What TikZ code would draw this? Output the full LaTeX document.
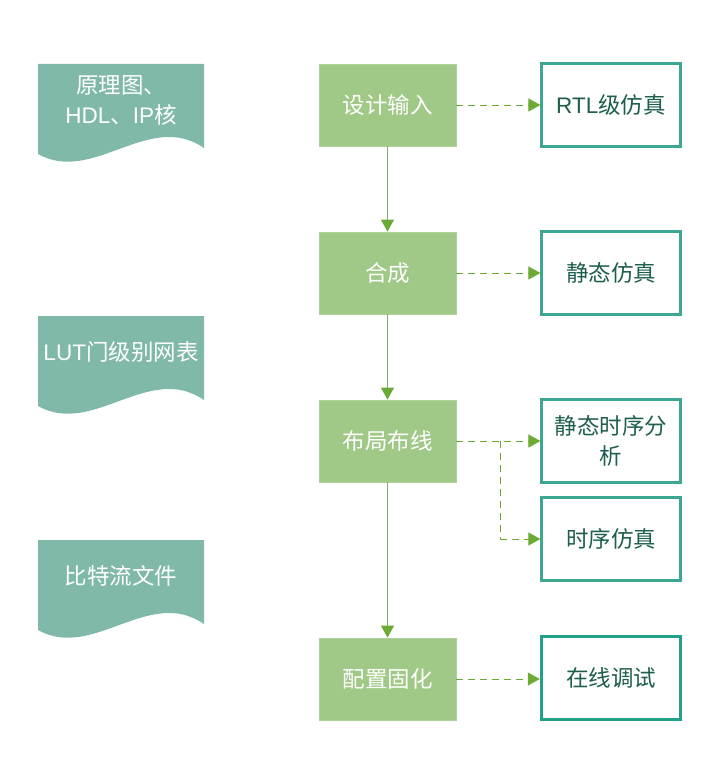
\documentclass[tikz,border=0pt]{standalone}
\usepackage{fontspec}
\setmainfont{Noto Sans CJK SC}
\newfontfamily\lat{Liberation Sans}
\usetikzlibrary{arrows.meta}

\definecolor{stepgreen}{HTML}{A0C987}
\definecolor{docteal}{HTML}{80B9AA}
\definecolor{simborder}{HTML}{3DA892}
\definecolor{debugborder}{HTML}{21A08A}
\definecolor{simtext}{HTML}{1D5E4E}
\definecolor{flowgreen}{HTML}{6BAA33}
\definecolor{flowline}{HTML}{86AE6A}

\tikzset{
  stepbox/.style={rectangle, fill=stepgreen, draw=stepgreen!85!white, line width=0.8pt,
    minimum width=137pt, minimum height=82pt, text=white, inner sep=0pt,
    font=\fontsize{22.5}{28}\selectfont},
  simbox/.style={rectangle, fill=white, draw=simborder, line width=2.2pt,
    minimum width=139pt, minimum height=83pt, text=simtext, inner sep=0pt, align=center,
    font=\fontsize{22.5}{30}\selectfont},
  debugbox/.style={simbox, draw=debugborder, line width=3.4pt},
  doctext/.style={text=white, align=center, inner sep=0pt, font=\fontsize{22.5}{30}\selectfont},
  mainflow/.style={draw=flowline, line width=1pt,
    -{Triangle[length=12pt,width=13pt,fill=flowgreen,color=flowgreen]}},
  sideflow/.style={draw=flowgreen, line width=1pt, dash pattern=on 7pt off 5pt,
    -{Triangle[length=12pt,width=13pt,fill=flowgreen,color=flowgreen]}},
  sidebranch/.style={draw=flowgreen, line width=1pt, dash pattern=on 7pt off 5pt},
}

% document-shaped outline with a wavy lower edge; #1,#2 = top-left corner
\newcommand{\docshape}[2]{%
  \fill[docteal] (#1,#2) -- (#1+166,#2) -- (#1+166,#2+84)
    .. controls (#1+111,#2+46) and (#1+55,#2+121) .. (#1,#2+90) -- cycle;}

\begin{document}
\begin{tikzpicture}[x=1pt,y=-1pt]
  \useasboundingbox (0,0) rectangle (724,760);

  % input documents on the left
  \docshape{38}{64}
  \docshape{38}{316}
  \docshape{38}{540}
  \node[doctext] (d1) at (121,100) {原理图、\\{\lat HDL}、{\lat IP}核};
  \node[doctext] (d2) at (121,352) {{\lat LUT}门级别网表};
  \node[doctext] (d3) at (121,576) {比特流文件};

  % main design flow
  \node[stepbox] (g1) at (387.5,105) {设计输入};
  \node[stepbox] (g2) at (387.5,273) {合成};
  \node[stepbox] (g3) at (387.5,441) {布局布线};
  \node[stepbox] (g4) at (387.5,679) {配置固化};

  % verification steps
  \node[simbox] (r1) at (611,105) {{\lat RTL}级仿真};
  \node[simbox] (r2) at (611,273) {静态仿真};
  \node[simbox] (r3) at (611,441) {静态时序分\\析};
  \node[simbox] (r4) at (611,539) {时序仿真};
  \node[debugbox] (r5) at (611,678) {在线调试};

  % connectors
  \draw[mainflow] (g1.south) -- (g2.north);
  \draw[mainflow] (g2.south) -- (g3.north);
  \draw[mainflow] (g3.south) -- (g4.north);

  \draw[sideflow] (g1.east) -- (r1.west);
  \draw[sideflow] (g2.east) -- (r2.west);
  \draw[sideflow] (g3.east) -- (r3.west);
  \coordinate (br) at (500,441);
  \draw[sidebranch] (br) -- (500,539);
  \draw[sideflow] (500,539) -- (r4.west);
  \draw[sideflow] (g4.east) -- (r5.west |- g4.east);
\end{tikzpicture}
\end{document}
